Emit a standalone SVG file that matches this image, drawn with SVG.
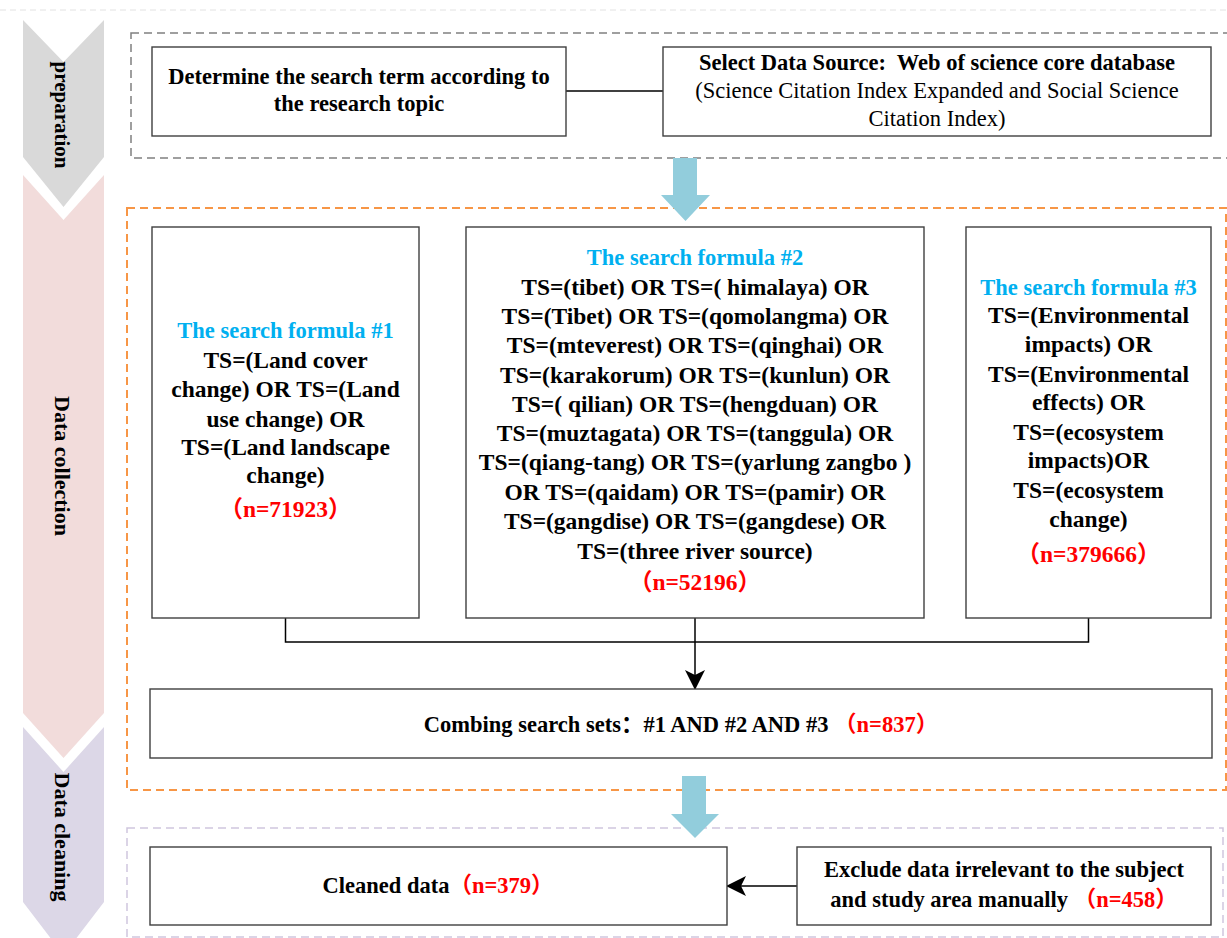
<svg xmlns="http://www.w3.org/2000/svg" width="1227" height="938" viewBox="0 0 1227 938">
<style>
.bx{fill:#fff;stroke:#3f3f3f;stroke-width:1.4}
.t{font-family:"Liberation Serif","Noto Sans CJK SC",serif;fill:#000;text-anchor:middle}
.b{font-weight:bold}
.f{font-size:23.5px;font-weight:bold}
.h{font-size:22.5px;font-weight:bold;fill:#00b0f0}
.m{font-size:22.5px}
.r{fill:#ff0000;font-weight:bold}
.lab{font-family:"Liberation Serif",serif;font-weight:bold;font-size:21px;text-anchor:middle;dominant-baseline:central;fill:#000}
.conn{fill:none;stroke:#000;stroke-width:1.5}
.blue{fill:#92cddc}
</style>
<defs>
<marker id="ah" markerUnits="userSpaceOnUse" markerWidth="20" markerHeight="20" refX="19" refY="10" orient="auto">
<path d="M0,0 L20,10 L0,20 L5,10 z" fill="#000"/>
</marker>
</defs>
<rect width="1227" height="938" fill="#fff"/>
<line x1="0" y1="10" x2="1227" y2="10" stroke="#e2e2e2" stroke-width="1" stroke-dasharray="6 4"/>

<g id="stage-preparation">
<polygon points="23,20 63.5,62 104,20 104,157 63.5,207 23,157" fill="#d9d9d9"/>
<text class="lab" transform="translate(62,115) rotate(90)">preparation</text>
</g>
<g id="stage-collection">
<polygon points="23,175 63.5,220 104,175 104,713 63.5,758 23,713" fill="#f2dcdb"/>
<text class="lab" transform="translate(62,466) rotate(90)" style="font-size:22px">Data collection</text>
</g>
<g id="stage-cleaning">
<polygon points="23,727 63.5,772 104,727 104,902 63.5,955 23,902" fill="#dcd7e7"/>
<text class="lab" transform="translate(62,837) rotate(90)" style="font-size:22px">Data cleaning</text>
</g>

<g id="group-preparation">
<rect x="131" y="33" width="1100" height="125" fill="none" stroke="#808080" stroke-width="1.5" stroke-dasharray="8 5"/>
</g>
<g id="group-collection">
<rect x="127" y="208" width="1099" height="582" fill="none" stroke="#f79646" stroke-width="2" stroke-dasharray="8 5"/>
</g>
<g id="group-cleaning">
<rect x="127" y="828" width="1096" height="109" fill="none" stroke="#cfc6de" stroke-width="1.5" stroke-dasharray="8 5"/>
</g>

<g id="connectors">
<line class="conn" x1="566" y1="91" x2="663" y2="91"/>
<path class="conn" d="M285.5,618 V642 H1088.5 V618"/>
<path class="conn" d="M695,618 V689" marker-end="url(#ah)"/>
<path class="conn" d="M797,886 H727" marker-end="url(#ah)"/>
<polygon class="blue" points="673,158 697,158 697,195 710,195 685.5,221 661,195 673,195"/>
<polygon class="blue" points="682,776 706,776 706,814 719,814 695,838 671,814 682,814"/>
</g>

<g id="node-search-term">
<rect class="bx" x="152" y="47" width="414" height="89"/>
<text class="t b m" x="359" y="84">Determine the search term according to</text>
<text class="t b m" x="359" y="111">the research topic</text>
</g>

<g id="node-data-source">
<rect class="bx" x="663" y="47" width="548" height="89"/>
<text class="t b m" x="937" y="70" xml:space="preserve">Select Data Source:  Web of science core database</text>
<text class="t m" x="937" y="98">(Science Citation Index Expanded and Social Science</text>
<text class="t m" x="937" y="126">Citation Index)</text>
</g>

<g id="node-formula-1">
<rect class="bx" x="152" y="227" width="267" height="391"/>
<text class="t h" x="285.5" y="338">The search formula #1</text>
<text class="t f" x="285.5" y="368">TS=(Land cover</text>
<text class="t f" x="285.5" y="397">change) OR TS=(Land</text>
<text class="t f" x="285.5" y="427">use change) OR</text>
<text class="t f" x="285.5" y="455">TS=(Land landscape</text>
<text class="t f" x="285.5" y="483">change)</text>
<text class="t f r" x="285.5" y="517">（n=71923）</text>
</g>

<g id="node-formula-2">
<rect class="bx" x="466" y="227" width="458" height="391"/>
<text class="t h" x="695" y="265">The search formula #2</text>
<text class="t f" x="695" y="295">TS=(tibet) OR TS=( himalaya) OR</text>
<text class="t f" x="695" y="324">TS=(Tibet) OR TS=(qomolangma) OR</text>
<text class="t f" x="695" y="353">TS=(mteverest) OR TS=(qinghai) OR</text>
<text class="t f" x="695" y="383">TS=(karakorum) OR TS=(kunlun) OR</text>
<text class="t f" x="695" y="412">TS=( qilian) OR TS=(hengduan) OR</text>
<text class="t f" x="695" y="441">TS=(muztagata) OR TS=(tanggula) OR</text>
<text class="t f" x="695" y="470">TS=(qiang-tang) OR TS=(yarlung zangbo )</text>
<text class="t f" x="695" y="500">OR TS=(qaidam) OR TS=(pamir) OR</text>
<text class="t f" x="695" y="529">TS=(gangdise) OR TS=(gangdese) OR</text>
<text class="t f" x="695" y="559">TS=(three river source)</text>
<text class="t f r" x="695" y="590">（n=52196）</text>
</g>

<g id="node-formula-3">
<rect class="bx" x="966" y="227" width="245" height="391"/>
<text class="t h" x="1088.5" y="295">The search formula #3</text>
<text class="t f" x="1088.5" y="323">TS=(Environmental</text>
<text class="t f" x="1088.5" y="352">impacts) OR</text>
<text class="t f" x="1088.5" y="382">TS=(Environmental</text>
<text class="t f" x="1088.5" y="410">effects) OR</text>
<text class="t f" x="1088.5" y="440">TS=(ecosystem</text>
<text class="t f" x="1088.5" y="468">impacts)OR</text>
<text class="t f" x="1088.5" y="498">TS=(ecosystem</text>
<text class="t f" x="1088.5" y="527">change)</text>
<text class="t f r" x="1088.5" y="562">（n=379666）</text>
</g>

<g id="node-combine">
<rect class="bx" x="150" y="689" width="1062" height="69"/>
<text class="t b m" x="681" y="732">Combing search sets：#1 AND #2 AND #3 <tspan class="r">（n=837）</tspan></text>
</g>

<g id="node-cleaned">
<rect class="bx" x="150" y="847" width="577" height="78"/>
<text class="t b m" x="438" y="893">Cleaned data<tspan class="r">（n=379）</tspan></text>
</g>

<g id="node-exclude">
<rect class="bx" x="797" y="847" width="414" height="78"/>
<text class="t b m" x="1004" y="877">Exclude data irrelevant to the subject</text>
<text class="t b m" x="1004" y="907">and study area manually <tspan class="r">（n=458）</tspan></text>
</g>
</svg>
